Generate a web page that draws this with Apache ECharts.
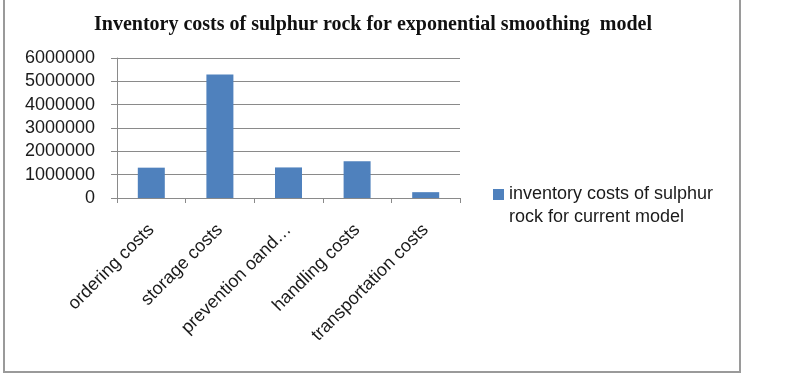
<!DOCTYPE html>
<html>
<head>
<meta charset="utf-8">
<script src="https://cdn.jsdelivr.net/npm/echarts@6/dist/echarts.min.js"></script>
<style>
  html, body { margin: 0; padding: 0; background: #fff; }
  #chart { width: 800px; height: 378px; }
</style>
</head>
<body>
<div id="chart"></div>
<script>
var categories = ['ordering costs', 'storage costs', 'prevention oand…', 'handling costs', 'transportation costs'];
var costs = [1300000, 5290000, 1310000, 1570000, 250000];
var seriesName = 'inventory costs of sulphur\nrock for current model';
var yTicks = { min: 0, max: 6000000, interval: 1000000 };

var chart = echarts.init(document.getElementById('chart'));

// legend square sits beside the first of the two text lines, as in excel
var legendIcon = 'path://M0,0 M0,46 M0,6 L11,6 L11,17 L0,17 Z';

var option = {
    backgroundColor: '#fff',
    animation: false,
    title: {
        text: 'Inventory costs of sulphur rock for exponential smoothing  model',
        left: 368,
        top: 10,
        textAlign: 'center',
        textStyle: {
            fontFamily: 'Liberation Serif',
            fontWeight: 'bold',
            fontSize: 20,
            color: '#111'
        }
    },
    legend: {
        left: 493,
        top: 183,
        padding: 0,
        orient: 'vertical',
        itemWidth: 11,
        itemHeight: 46,
        itemGap: 0,
        icon: legendIcon,
        data: [seriesName],
        textStyle: {
            fontFamily: 'Liberation Sans',
            fontSize: 18,
            lineHeight: 23,
            color: '#1a1a1a'
        }
    },
    grid: {
        left: 117,
        right: 340,
        top: 58,
        bottom: 180
    },
    xAxis: {
        type: 'category',
        data: categories,
        axisLine: { lineStyle: { color: '#8a8a8a', width: 1 } },
        axisTick: { show: true, interval: 0, length: 5, lineStyle: { color: '#8a8a8a' } },
        axisLabel: {
            interval: 0,
            rotate: 45,
            margin: 29,
            fontFamily: 'Liberation Sans',
            fontSize: 18,
            color: '#1a1a1a'
        }
    },
    yAxis: {
        type: 'value',
        min: yTicks.min,
        max: yTicks.max,
        interval: yTicks.interval,
        axisLine: { show: true, lineStyle: { color: '#8a8a8a', width: 1 } },
        axisTick: { show: true, length: 6, lineStyle: { color: '#8a8a8a' } },
        splitLine: { lineStyle: { color: '#8a8a8a', width: 1 } },
        axisLabel: {
            margin: 22,
            fontFamily: 'Liberation Sans',
            fontSize: 18,
            color: '#1a1a1a',
            formatter: function (v) { return String(v); }
        }
    },
    series: [{
        name: seriesName,
        type: 'bar',
        data: costs,
        barWidth: 27,
        itemStyle: { color: '#4f81bd' }
    }],
    graphic: [{
        type: 'rect',
        shape: { x: 4, y: -5, width: 736, height: 377 },
        style: { fill: 'none', stroke: '#9a9a9a', lineWidth: 2 },
        silent: true
    }]
};

chart.setOption(option);
</script>
</body>
</html>
